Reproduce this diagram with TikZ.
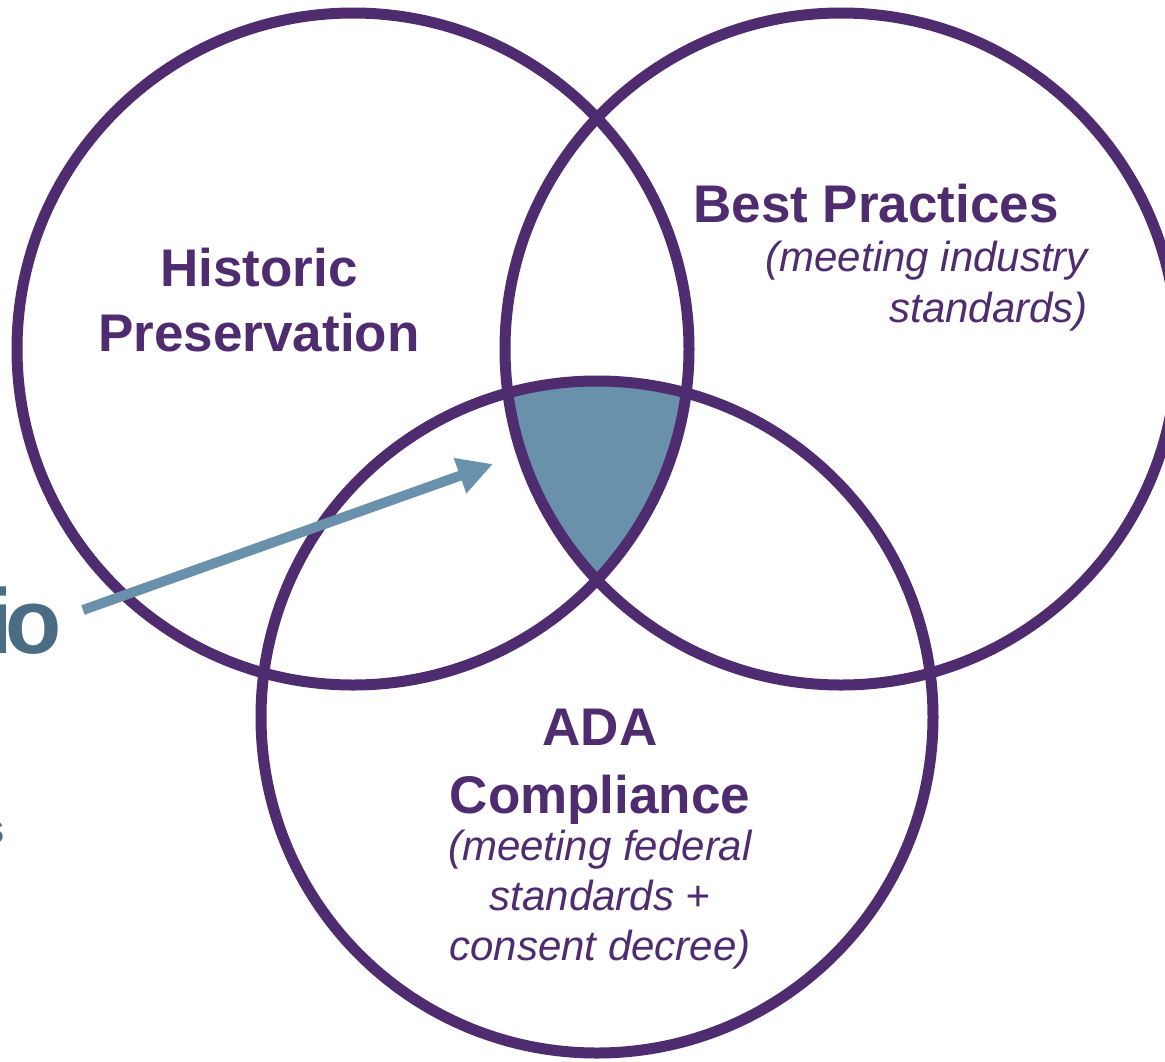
\documentclass[tikz,border=0pt]{standalone}
\usepackage{fontspec}
\setmainfont{Liberation Sans}
\usetikzlibrary{arrows.meta}
\definecolor{vpurple}{HTML}{4F2B6F}
\definecolor{vblue}{HTML}{6A91AB}
\definecolor{vslate}{HTML}{4A6D84}
\begin{document}
\begin{tikzpicture}[x=1pt,y=-1pt,
  ring/.style={draw=vpurple,line width=11pt},
  title/.style={font=\fontsize{53}{65}\selectfont\bfseries,text=vpurple,align=center,inner sep=0pt},
  note/.style={font=\fontsize{42}{50}\selectfont\itshape,text=vpurple,inner sep=0pt},
  side/.style={text=vslate,inner sep=0pt},
  pointer/.style={draw=vblue,line width=10pt,-{Triangle[length=35pt,width=35pt]}}]
\useasboundingbox (0,0) rectangle (1165,1061);
\fill[white] (0,0) rectangle (1165,1061);
\clip (0,0) rectangle (1165,1061);
\coordinate (cL) at (353,349);
\coordinate (cR) at (841,349);
\coordinate (cB) at (597,717);
% shared region
\begin{scope}
  \clip (cL) circle[radius=336pt];
  \clip (cR) circle[radius=336pt];
  \fill[vblue] (cB) circle[radius=336pt];
\end{scope}
% circles
\draw[ring] (cL) circle[radius=336pt];
\draw[ring] (cR) circle[radius=336pt];
\draw[ring] (cB) circle[radius=336pt];
% labels (base anchor = baseline of the last line)
\node[title,anchor=base] (hp) at (259,351) {Historic\\Preservation};
\node[title,anchor=base] (bp) at (876,222) {Best Practices};
\node[note,align=right,anchor=base east,font=\fontsize{42}{51}\selectfont\itshape] (bpn) at (1088,322) {(meeting industry\\standards)};
\node[title,anchor=base,font=\fontsize{53}{68}\selectfont\bfseries] (ada) at (600,813) {ADA\\Compliance};
\node[note,align=center,anchor=base] (adan) at (600,960) {(meeting federal\\standards +\\consent decree)};
% cut-off side texts
\node[side,anchor=base east,font=\fontsize{92}{92}\selectfont\bfseries] (io) at (62,653) {i\kern-7pt o};
\node[side,anchor=base east,font=\fontsize{42}{42}\selectfont\bfseries] (s) at (5,843) {s};
% arrow
\coordinate (a1) at (83,610);
\coordinate (a2) at (493,464);
\draw[pointer] (a1) -- (a2);
\end{tikzpicture}
\end{document}
